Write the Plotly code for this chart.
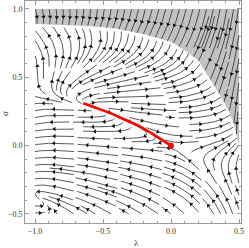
import math
import numpy as np
import plotly.graph_objects as go

# ---------------- data ----------------
x_tick_vals = [-1.0, -0.5, 0.0, 0.5]
y_tick_vals = [-0.5, 0.0, 0.5, 1.0]
x_title = "λ"
y_title = "σ"

# lower edge of the shaded (grey) region
bound_x = [-1.0, -0.8, -0.6, -0.4, -0.2, 0.0, 0.1, 0.2, 0.3, 0.37, 0.42, 0.46, 0.5]
bound_y = [0.89, 0.885, 0.875, 0.855, 0.815, 0.76, 0.70, 0.625, 0.47, 0.355, 0.26, 0.17, 0.0]

# red curve and red point
red_x = [-0.645, -0.55, -0.45, -0.35, -0.25, -0.15, -0.07, 0.0]
red_y = [0.31, 0.275, 0.24, 0.195, 0.151, 0.095, 0.045, 0.0]
dot_x = [0.0]
dot_y = [0.0]

# fixed points of the flow (saddle at origin, source at end of red curve)
fixed_x = [0.0, -0.645]
fixed_y = [0.0, 0.31]

# flow directions, white region
white_x = [-0.95, -0.95, -0.95, -0.95, -0.95, -0.95, -0.95, -0.8, -0.8, -0.8, -0.8, -0.8,
           -0.65, -0.65, -0.5, -0.5, -0.45, -0.3, -0.3, -0.15, -0.15, 0.05, 0.07, 0.0,
           0.2, 0.21, 0.2, 0.35, 0.35, -0.5, -0.3, -0.95, -0.95, -0.5, -0.5, -0.2, -0.1,
           -0.08, 0.07, 0.2, 0.2, 0.15, 0.35, 0.47, 0.35, 0.45, 0.45]
white_y = [0.80, 0.65, 0.55, 0.42, 0.30, 0.15, 0.02, 0.75, 0.55, 0.42, 0.30, 0.15,
           0.75, 0.5, 0.75, 0.5, 0.37, 0.7, 0.45, 0.7, 0.34, 0.6, 0.45, 0.25,
           0.45, 0.26, 0.12, 0.2, 0.05, 0.05, -0.02, -0.2, -0.45, -0.15, -0.4, -0.1, -0.3,
           -0.5, -0.2, -0.5, -0.3, -0.1, -0.45, -0.5, -0.2, -0.15, -0.05]
white_dx = [-0.1, -0.25, -0.5, -1, -1, -1, -1, -0.2, -0.45, -1, -1, -1,
            0.0, 0.0, 0.4, 0.6, 1, 0.7, 1, 1, 1, 1, 1, 1,
            1, 1, 1, 1, 1, -1, -1, -1, -1, -1, -1, -1, -1,
            -1, -1, -0.6, -0.8, -1, -0.35, -0.2, -0.2, 0.0, 0.4]
white_dy = [1, 1, 1, 0.5, 0.05, 0.0, 0.0, 1, 1, 0.7, 0.0, -0.05,
            1, 1, 1, 1, 0.5, 1, 0.6, 0.9, 0.3, 0.8, 0.5, 0.1,
            0.7, 0.3, 0.1, 0.5, 0.1, 0.05, 0.1, 0.25, 0.55, 0.2, 0.45, 0.25, 0.45,
            0.7, 0.6, 1, 1, 0.5, 1, 1, 1, 1, 1]

# flow directions, grey region
gray_x = [-0.9, -0.6, -0.3, 0.0, 0.0, 0.2, 0.2, 0.35, 0.35, 0.45, 0.45, 0.48]
gray_y = [0.95, 0.95, 0.95, 0.95, 0.82, 0.95, 0.75, 0.95, 0.6, 0.9, 0.5, 0.25]
gray_dx = [0.0, -0.05, -0.25, -0.35, -0.4, -0.35, -0.45, -0.25, -0.45, -0.05, -0.2, -0.1]
gray_dy = [-1, -1, -1, -1, -1, -1, -1, -1, -1, -1, -1, -1]

# ---------------- build smooth direction fields ----------------
def make_terms(deg, const):
    t = [(0, 0)] if const else []
    for d in range(1, deg + 1):
        for i in range(d + 1):
            t.append((d - i, i))
    return t

def feat(x, y, terms):
    return np.array([x ** a * y ** b for a, b in terms], dtype=float)

def dfx(x, y, terms):
    return np.array([a * x ** (a - 1) * y ** b if a > 0 else 0.0 for a, b in terms])

def dfy(x, y, terms):
    return np.array([b * x ** a * y ** (b - 1) if b > 0 else 0.0 for a, b in terms])

def fit(xs, ys, dxs, dys, terms, fixed=(), jac=()):
    n = len(terms)
    rows, rhs = [], []
    z = np.zeros(n)
    for x, y, dx, dy in zip(xs, ys, dxs, dys):
        nn = math.hypot(dx, dy)
        dx, dy = dx / nn, dy / nn
        f = feat(x, y, terms)
        s = 1.0
        for fx, fy in fixed:
            s = min(s, 2.5 * math.hypot(x - fx, y - fy))
        rows.append(np.concatenate([3 * f * (-dy), 3 * f * dx])); rhs.append(0.0)
        rows.append(np.concatenate([f * dx, f * dy])); rhs.append(s)
    for fx, fy in fixed:
        f = feat(fx, fy, terms)
        rows.append(np.concatenate([10 * f, z])); rhs.append(0.0)
        rows.append(np.concatenate([z, 10 * f])); rhs.append(0.0)
    for (px, py), J, w in jac:
        gx, gy = dfx(px, py, terms), dfy(px, py, terms)
        rows.append(np.concatenate([w * gx, z])); rhs.append(w * J[0][0])
        rows.append(np.concatenate([w * gy, z])); rhs.append(w * J[0][1])
        rows.append(np.concatenate([z, w * gx])); rhs.append(w * J[1][0])
        rows.append(np.concatenate([z, w * gy])); rhs.append(w * J[1][1])
    A = np.array(rows); b = np.array(rhs)
    A = np.vstack([A, 1e-3 * np.eye(2 * n)]); b = np.concatenate([b, np.zeros(2 * n)])
    c = np.linalg.lstsq(A, b, rcond=None)[0]
    return c[:n], c[n:]

terms_w = make_terms(3, False)
fixed_pts = list(zip(fixed_x, fixed_y))
jac = [((fixed_x[0], fixed_y[0]), [[2.5, 10.4], [0.0, -2.5]], 2.0),
       ((fixed_x[1], fixed_y[1]), [[3.0, 0.0], [0.0, 3.0]], 1.0)]
cwx, cwy = fit(white_x, white_y, white_dx, white_dy, terms_w, fixed_pts, jac)
terms_g = make_terms(2, True)
cgx, cgy = fit(gray_x, gray_y, gray_dx, gray_dy, terms_g)

def make_eval(terms, cx, cy):
    tl = list(zip(terms, cx.tolist(), cy.tolist()))
    def f(x, y):
        vx = vy = 0.0
        for (a, b), px, py in tl:
            m = (x ** a) * (y ** b)
            vx += px * m
            vy += py * m
        return vx, vy
    return f

FIELDS = [make_eval(terms_w, cwx, cwy), make_eval(terms_g, cgx, cgy)]

def B(x):
    return float(np.interp(x, bound_x, bound_y))

def region(x, y):
    return 1 if y > B(x) else 0

XMIN, XMAX, YMIN, YMAX = -1.0, 0.5, -0.5, 1.0

def direction(x, y, reg):
    vx, vy = FIELDS[reg](x, y)
    n = math.hypot(vx, vy)
    if n < 1e-9:
        return None
    return vx / n, vy / n

DSEP = [0.05, 0.038]
cell = 0.019
grid = {}

def near(x, y, d):
    i, j = int(math.floor(x / cell)), int(math.floor(y / cell))
    r = int(math.ceil(d / cell))
    for di in range(-r, r + 1):
        for dj in range(-r, r + 1):
            for (px, py) in grid.get((i + di, j + dj), ()):
                if (px - x) ** 2 + (py - y) ** 2 < d * d:
                    return True
    return False

def add(pts):
    for x, y in pts:
        key = (int(math.floor(x / cell)), int(math.floor(y / cell)))
        grid.setdefault(key, []).append((x, y))

h = 0.004
maxlen = 0.28

def integrate(x, y, sgn):
    reg = region(x, y)
    dtest = 0.5 * DSEP[reg]
    pts = []
    L = 0.0
    prev = None
    while L < maxlen:
        d1 = direction(x, y, reg)
        if d1 is None:
            break
        xm, ym = x + 0.5 * h * sgn * d1[0], y + 0.5 * h * sgn * d1[1]
        d2 = direction(xm, ym, reg)
        if d2 is None:
            break
        if prev is not None and prev[0] * d2[0] + prev[1] * d2[1] < 0.6:
            break
        xn, yn = x + h * sgn * d2[0], y + h * sgn * d2[1]
        if not (XMIN <= xn <= XMAX and YMIN <= yn <= YMAX):
            break
        if region(xn, yn) != reg:
            break
        if near(xn, yn, dtest):
            break
        if any(math.hypot(xn - fx, yn - fy) < 0.012 for fx, fy in fixed_pts):
            break
        pts.append((xn, yn))
        prev = d2
        x, y = xn, yn
        L += h
    return pts

lines = []
seed_step = 0.025
sx = np.arange(XMIN + 0.008, XMAX, seed_step)
sy = np.arange(YMIN + 0.008, YMAX, seed_step)
for yy in sy[::-1]:
    for xx in sx:
        xx, yy = float(xx), float(yy)
        if abs(yy - B(xx)) < 0.01:
            continue
        reg = region(xx, yy)
        if near(xx, yy, DSEP[reg] * 0.9):
            continue
        fwd = integrate(xx, yy, 1)
        bwd = integrate(xx, yy, -1)
        line = bwd[::-1] + [(xx, yy)] + fwd
        if len(line) * h < 0.05:
            continue
        add(line)
        lines.append(line)

lx, ly, ax, ay, aang = [], [], [], [], []
for line in lines:
    arr = np.array(line)
    lx.extend(arr[:, 0].tolist() + [None])
    ly.extend(arr[:, 1].tolist() + [None])
    seg = np.hypot(np.diff(arr[:, 0]), np.diff(arr[:, 1]))
    s = np.concatenate([[0], np.cumsum(seg)])
    Ltot = s[-1]
    n = max(1, int(round(Ltot / 0.2)))
    for k in range(n):
        sk = (k + 0.5) * Ltot / n
        i = int(np.searchsorted(s, sk))
        i = min(max(i, 1), len(arr) - 1)
        dx, dy = arr[i, 0] - arr[i - 1, 0], arr[i, 1] - arr[i - 1, 1]
        ax.append(float(arr[i, 0])); ay.append(float(arr[i, 1]))
        aang.append(math.degrees(math.atan2(dx, dy)))

fig = go.Figure()
fig.add_trace(go.Scatter(x=bound_x + [0.5, -1.0], y=bound_y + [1.0, 1.0], fill="toself",
                         fillcolor="#c2c2c2", line=dict(width=0), mode="lines",
                         hoverinfo="skip", showlegend=False))
fig.add_trace(go.Scatter(x=lx, y=ly, mode="lines", line=dict(color="#222", width=0.75),
                         hoverinfo="skip", showlegend=False))
fig.add_trace(go.Scatter(x=ax, y=ay, mode="markers",
                         marker=dict(symbol="triangle-up", size=4, color="#111", angle=aang,
                                     line=dict(width=0)),
                         hoverinfo="skip", showlegend=False))
fig.add_trace(go.Scatter(x=red_x, y=red_y, mode="lines", line=dict(color="#ff0000", width=2.6),
                         showlegend=False))
fig.add_trace(go.Scatter(x=dot_x, y=dot_y, mode="markers", marker=dict(color="#ff0000", size=6),
                         showlegend=False))

axis_common = dict(showline=True, linecolor="#9a9a9a", linewidth=1, mirror="allticks",
                   ticks="inside", ticklen=4, tickcolor="#9a9a9a", showgrid=False, zeroline=False,
                   tickformat=".1f",
                   minor=dict(ticks="inside", ticklen=2, dtick=0.1, tickcolor="#9a9a9a", showgrid=False),
                   tickfont=dict(family="Liberation Serif", size=8, color="#333"))
fig.update_layout(
    width=249, height=248,
    margin=dict(l=25, r=8, t=1, b=25),
    plot_bgcolor="white", paper_bgcolor="white",
    xaxis=dict(range=[-1.0735, 0.5147], tickvals=x_tick_vals, **axis_common),
    yaxis=dict(range=[-0.566, 1.0585], tickvals=y_tick_vals, **axis_common),
    annotations=[
        dict(text=x_title, xref="paper", yref="paper", x=0.518, y=-0.09, showarrow=False,
             font=dict(family="Liberation Serif", size=9, color="#333"), xanchor="center", yanchor="middle"),
        dict(text=y_title, xref="paper", yref="paper", x=-0.093, y=0.495, showarrow=False,
             textangle=-90,
             font=dict(family="Liberation Serif", size=9, color="#333"), xanchor="center", yanchor="middle"),
    ],
)
fig.write_html("out.html", config={"displayModeBar": False},
               post_script="document.body.style.margin='0px';document.body.style.padding='0px';")
